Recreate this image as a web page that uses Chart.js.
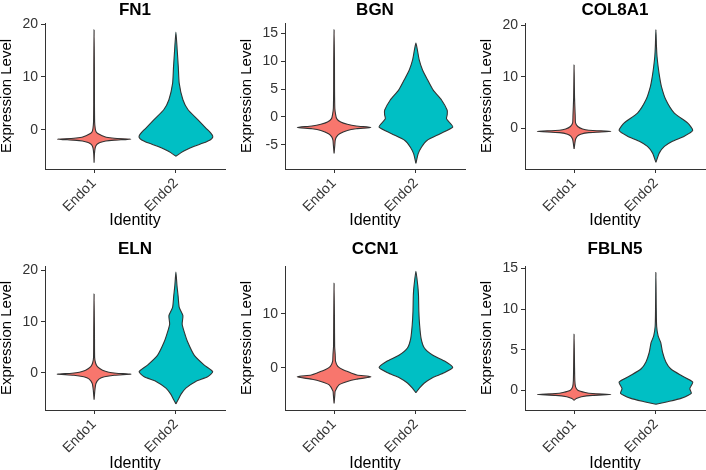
<!DOCTYPE html>
<html>
<head>
<meta charset="utf-8">
<script src="https://cdn.jsdelivr.net/npm/chart.js@4.4.1/dist/chart.umd.min.js"></script>
<style>
  body { margin: 0; background: #fff; width: 706px; height: 470px; overflow: hidden; position: relative; }
  canvas { position: absolute; }
</style>
</head>
<body>
<script>
const identities = ["Endo1", "Endo2"];
const genes = ["FN1", "BGN", "COL8A1", "ELN", "CCN1", "FBLN5"];
const violinColors = ["#F8766D", "#00BFC4"];

// y tick values and axis limits for each gene
const fn1Ticks = [0, 10, 20];
const bgnTicks = [-5, 0, 5, 10, 15];
const col8a1Ticks = [0, 10, 20];
const elnTicks = [0, 10, 20];
const ccn1Ticks = [0, 10];
const fbln5Ticks = [0, 5, 10, 15];

const fn1Limits = [-7.4, 20.2];
const bgnLimits = [-9.3, 16.8];
const col8a1Limits = [-8.0, 20.5];
const elnLimits = [-7.3, 20.9];
const ccn1Limits = [-7.8, 18.9];
const fbln5Limits = [-2.4, 15.3];

// violin outlines: expression level and relative width (1 = widest)
const fn1Endo1Y = [-6.2, -4.5, -3.4, -2.8, -2.4, -2.1, -1.95, -1.76, -1.6, -1.4, -1.1, -0.7, -0.3, 0.3, 1.5, 5, 12, 18.9];
const fn1Endo1W = [0, 0.01, 0.03, 0.07, 0.16, 0.32, 0.55, 1.0, 0.55, 0.33, 0.22, 0.1, 0.05, 0.03, 0.015, 0.01, 0.008, 0];
const fn1Endo2Y = [-5.0, -4.3, -3.8, -3.1, -2.5, -1.9, -1.4, -0.9, 0.3, 1.9, 3.8, 5.7, 8.8, 11.9, 15.1, 18.5];
const fn1Endo2W = [0, 0.14, 0.27, 0.5, 0.74, 0.93, 1.0, 0.98, 0.82, 0.6, 0.33, 0.19, 0.09, 0.065, 0.035, 0];

const bgnEndo1Y = [-6.5, -5, -4.2, -3.6, -3.0, -2.4, -2.1, -1.86, -1.6, -1.3, -0.9, -0.3, 0.5, 1.5, 5, 10, 15.6];
const bgnEndo1W = [0, 0.02, 0.03, 0.06, 0.15, 0.36, 0.6, 1.0, 0.6, 0.36, 0.18, 0.07, 0.04, 0.02, 0.012, 0.01, 0];
const bgnEndo2Y = [-8.3, -6.6, -5.4, -4.2, -3.0, -1.8, -0.9, -0.3, 0.4, 1.2, 3, 4.8, 6.6, 8.4, 10.2, 12, 13.2];
const bgnEndo2W = [0, 0.06, 0.15, 0.3, 0.66, 1.0, 0.9, 0.83, 0.85, 0.85, 0.7, 0.47, 0.32, 0.18, 0.09, 0.04, 0];

const col8a1Endo1Y = [-4.1, -3, -2.2, -1.6, -1.2, -0.9, -0.66, -0.45, -0.2, 0.3, 1, 2.5, 6, 12.3];
const col8a1Endo1W = [0, 0.02, 0.04, 0.09, 0.18, 0.4, 1.0, 0.4, 0.23, 0.1, 0.04, 0.03, 0.012, 0];
const col8a1Endo2Y = [-6.7, -4.9, -3.6, -2.6, -1.6, -0.46, 1.0, 2.9, 5.5, 8.1, 10, 12, 14, 16, 19.2];
const col8a1Endo2W = [0, 0.09, 0.23, 0.45, 0.77, 1.0, 0.86, 0.5, 0.27, 0.15, 0.1, 0.06, 0.03, 0.015, 0];

const elnEndo1Y = [-5.3, -3.5, -2.1, -1.2, -0.8, -0.5, -0.3, -0.1, 0.1, 0.5, 1.2, 1.9, 3, 8, 15.4];
const elnEndo1W = [0, 0.02, 0.05, 0.14, 0.28, 0.55, 1.0, 0.6, 0.4, 0.23, 0.09, 0.04, 0.015, 0.01, 0];
const elnEndo2Y = [-6.1, -5.3, -4.2, -3.0, -1.7, -0.8, 0.2, 1.5, 3.4, 6, 7.9, 9.5, 11.2, 12.8, 15, 17, 19.7];
const elnEndo2W = [0, 0.06, 0.14, 0.27, 0.54, 0.86, 1.0, 0.77, 0.5, 0.32, 0.23, 0.17, 0.19, 0.09, 0.06, 0.03, 0];

const ccn1Endo1Y = [-6.6, -5, -4.3, -3.1, -2.5, -2.1, -1.66, -1.3, -0.9, -0.3, 0.3, 1.2, 2.5, 4, 9, 15.7];
const ccn1Endo1W = [0, 0.02, 0.03, 0.14, 0.36, 0.6, 1.0, 0.62, 0.45, 0.23, 0.1, 0.04, 0.03, 0.015, 0.01, 0];
const ccn1Endo2Y = [-4.6, -3.7, -2.8, -1.8, -0.9, 0.1, 1.2, 2.4, 3.7, 5.5, 8, 10.4, 13.5, 15.3, 17.9];
const ccn1Endo2W = [0, 0.1, 0.23, 0.45, 0.77, 1.0, 0.8, 0.45, 0.23, 0.14, 0.1, 0.08, 0.07, 0.05, 0];

const fbln5Endo1Y = [-1.2, -1.0, -0.78, -0.6, -0.49, -0.38, -0.24, 0.04, 0.44, 1.2, 3, 6.9];
const fbln5Endo1W = [0, 0.06, 0.2, 0.5, 1.0, 0.5, 0.3, 0.1, 0.04, 0.02, 0.012, 0];
const fbln5Endo2Y = [-1.7, -1.38, -0.97, -0.36, 0.24, 1.04, 1.86, 2.67, 3.5, 4.7, 5.9, 6.7, 7.9, 10, 14.5];
const fbln5Endo2W = [0, 0.32, 0.68, 0.96, 0.92, 1.0, 0.68, 0.4, 0.27, 0.18, 0.13, 0.06, 0.02, 0.01, 0];

const allTicks = [fn1Ticks, bgnTicks, col8a1Ticks, elnTicks, ccn1Ticks, fbln5Ticks];
const allLimits = [fn1Limits, bgnLimits, col8a1Limits, elnLimits, ccn1Limits, fbln5Limits];
const shapeY = [[fn1Endo1Y, fn1Endo2Y], [bgnEndo1Y, bgnEndo2Y], [col8a1Endo1Y, col8a1Endo2Y],
                [elnEndo1Y, elnEndo2Y], [ccn1Endo1Y, ccn1Endo2Y], [fbln5Endo1Y, fbln5Endo2Y]];
const shapeW = [[fn1Endo1W, fn1Endo2W], [bgnEndo1W, bgnEndo2W], [col8a1Endo1W, col8a1Endo2W],
                [elnEndo1W, elnEndo2W], [ccn1Endo1W, ccn1Endo2W], [fbln5Endo1W, fbln5Endo2W]];

const fontFamily = "'Liberation Sans', Arial, Helvetica, sans-serif";

// outline goes up the right side and back down the left side
function violinPoints(center, ys, ws) {
  const half = 0.45;
  const pts = [];
  for (let i = 0; i < ys.length; i++) pts.push({ x: center + ws[i] * half, y: ys[i] });
  for (let i = ys.length - 2; i >= 0; i--) pts.push({ x: center - ws[i] * half, y: ys[i] });
  return pts;
}

function drawPanel(i) {
  const col = i % 3;
  const row = Math.floor(i / 3);
  const canvas = document.createElement("canvas");
  canvas.width = 231;
  canvas.height = row ? 240 : 235;
  canvas.style.left = (col * 240 - 2) + "px";
  canvas.style.top = (row * 235) + "px";
  document.body.appendChild(canvas);

  const ticks = allTicks[i];
  const limits = allLimits[i];

  new Chart(canvas, {
    type: "scatter",
    data: {
      datasets: identities.map((name, k) => ({
        label: name,
        data: violinPoints(k + 1, shapeY[i][k], shapeW[i][k]),
        showLine: true,
        fill: "shape",
        tension: 0.2,
        backgroundColor: violinColors[k],
        borderColor: "#333333",
        borderWidth: 1.1,
        pointRadius: 0
      }))
    },
    options: {
      responsive: false,
      animation: false,
      layout: { padding: { top: row ? 4 : 0, right: 4, left: 0, bottom: 0 } },
      plugins: {
        legend: { display: false },
        tooltip: { enabled: false },
        title: {
          display: true,
          text: genes[i],
          fullSize: false,
          color: "#000",
          font: { family: fontFamily, size: 17, weight: "bold" },
          padding: { top: 0, bottom: row ? 6.6 : 2.6 }
        }
      },
      scales: {
        x: {
          type: "linear",
          min: 0.4,
          max: 2.6,
          afterBuildTicks: s => { s.ticks = [{ value: 1 }, { value: 2 }]; },
          afterFit: s => { s.height = row ? 65 : 66; },
          ticks: {
            callback: v => identities[v - 1],
            autoSkip: false,
            maxRotation: 45,
            minRotation: 45,
            padding: 2,
            color: "#333333",
            font: { family: fontFamily, size: 14 }
          },
          grid: { drawOnChartArea: false, tickLength: 4, color: "#333333" },
          border: { color: "#333333", width: 1 },
          title: {
            display: true,
            text: "Identity",
            color: "#000",
            font: { family: fontFamily, size: 16 },
            padding: { top: 0, bottom: row ? 2 : 5 }
          }
        },
        y: {
          min: limits[0],
          max: limits[1],
          afterBuildTicks: s => { s.ticks = ticks.map(v => ({ value: v })); },
          afterFit: s => { s.width = 47; },
          ticks: {
            padding: 3,
            color: "#333333",
            font: { family: fontFamily, size: 14 }
          },
          grid: { drawOnChartArea: false, tickLength: 4, color: "#333333" },
          border: { color: "#333333", width: 1 },
          title: {
            display: true,
            text: "Expression Level",
            color: "#000",
            font: { family: fontFamily, size: 15 },
            padding: { top: 0, bottom: 0 }
          }
        }
      }
    }
  });
}

for (let i = 0; i < genes.length; i++) drawPanel(i);
</script>
</body>
</html>
